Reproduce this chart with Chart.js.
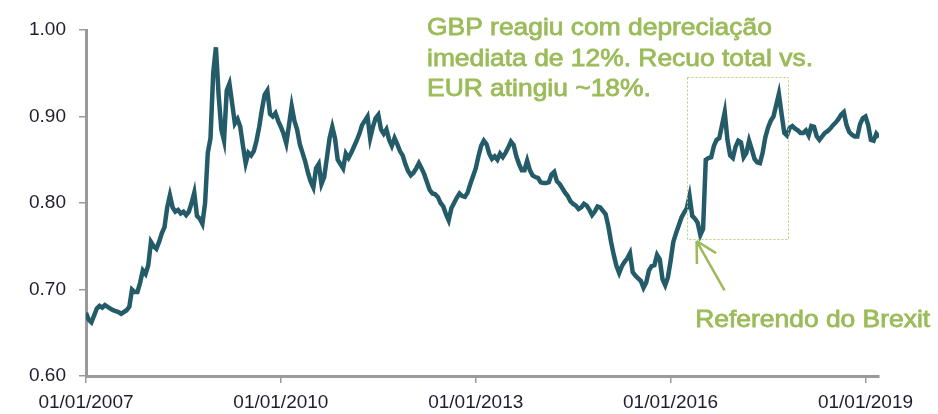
<!DOCTYPE html>
<html>
<head>
<meta charset="utf-8">
<title>EUR/GBP</title>
<script src="https://cdn.jsdelivr.net/npm/chart.js@4.4.1/dist/chart.umd.min.js"></script>
<style>
  html, body { margin: 0; padding: 0; background: #fff; }
</style>
</head>
<body>
<canvas id="fxChart" width="938" height="414"></canvas>
<script>
// EUR/GBP, one reading every half month starting 01/01/2007
var startYear = 2007;
var stepsPerYear = 24;
var tickYears = [2007, 2010, 2013, 2016, 2019];
var yTicks = [0.6, 0.7, 0.8, 0.9, 1.0];

var eurGbp = [
    0.673,0.665,0.662,0.670,0.678,0.681,0.679,0.682,0.680,0.678,0.676,0.675,0.674,0.672,0.674,0.676,0.680,0.700,0.697,0.697,0.708,0.722,0.718,0.728,
    0.755,0.750,0.747,0.755,0.765,0.772,0.795,0.809,0.795,0.790,0.792,0.788,0.790,0.786,0.790,0.800,0.812,0.785,0.782,0.776,0.800,0.858,0.875,0.950,
    0.980,0.925,0.885,0.872,0.930,0.938,0.915,0.892,0.897,0.888,0.866,0.846,0.858,0.855,0.860,0.872,0.888,0.908,0.925,0.930,0.903,0.900,0.904,0.895,
    0.888,0.880,0.869,0.890,0.912,0.895,0.885,0.868,0.858,0.848,0.835,0.825,0.818,0.840,0.845,0.822,0.830,0.852,0.875,0.888,0.875,0.850,0.845,0.840,
    0.857,0.852,0.858,0.865,0.872,0.880,0.890,0.895,0.900,0.875,0.888,0.898,0.902,0.885,0.880,0.885,0.873,0.866,0.875,0.868,0.860,0.855,0.845,0.837,
    0.832,0.835,0.840,0.846,0.840,0.833,0.824,0.815,0.811,0.810,0.807,0.800,0.796,0.787,0.780,0.794,0.800,0.806,0.811,0.808,0.807,0.812,0.822,0.831,
    0.840,0.854,0.866,0.872,0.868,0.857,0.851,0.854,0.850,0.857,0.853,0.858,0.864,0.871,0.867,0.854,0.845,0.838,0.838,0.849,0.838,0.832,0.830,0.829,
    0.824,0.823,0.823,0.824,0.833,0.836,0.825,0.822,0.817,0.812,0.808,0.802,0.799,0.797,0.793,0.795,0.799,0.797,0.792,0.786,0.790,0.796,0.795,0.791,
    0.787,0.773,0.755,0.740,0.727,0.719,0.727,0.732,0.736,0.742,0.720,0.716,0.713,0.710,0.702,0.708,0.722,0.727,0.728,0.740,0.735,0.712,0.705,0.714,
    0.733,0.755,0.765,0.774,0.783,0.789,0.794,0.808,0.785,0.782,0.777,0.763,0.770,0.850,0.852,0.853,0.866,0.873,0.875,0.890,0.905,0.873,0.855,0.852,
    0.865,0.872,0.870,0.853,0.858,0.872,0.862,0.851,0.847,0.846,0.858,0.876,0.887,0.895,0.900,0.913,0.926,0.903,0.881,0.878,0.887,0.889,0.886,0.884,
    0.881,0.881,0.884,0.878,0.889,0.888,0.877,0.873,0.877,0.881,0.883,0.886,0.890,0.893,0.897,0.902,0.905,0.890,0.882,0.879,0.877,0.877,0.891,0.898,
    0.900,0.890,0.873,0.872,0.880,0.876
];

var noteLines = ['GBP reagiu com depreciação', 'imediata de 12%. Recuo total vs.', 'EUR atingiu ~18%.'];
var brexitLabel = 'Referendo do Brexit';

var green = '#9bbb59';
var tickColor = '#1e1e30';
var axisGrey = '#9a9a9a';

function drawStretched(ctx, text, x, y, sx) {
    ctx.save();
    ctx.translate(x, y);
    ctx.scale(sx, 1);
    ctx.fillText(text, 0, 0);
    ctx.strokeText(text, 0, 0);
    ctx.restore();
}

// box, arrow and green notes, placed in data space
var notes = {
    id: 'notes',
    afterDatasetsDraw: function(chart) {
        var ctx = chart.ctx;
        var xs = chart.scales.x, ys = chart.scales.y;
        ctx.save();

        var bx1 = Math.round(xs.getPixelForValue(2016.26)) + 0.5;
        var bx2 = Math.round(xs.getPixelForValue(2017.80)) + 0.5;
        var by1 = Math.round(ys.getPixelForValue(0.946)) + 0.5;
        var by2 = Math.round(ys.getPixelForValue(0.758)) + 0.5;
        ctx.strokeStyle = '#b5cf7c';
        ctx.lineWidth = 1;
        ctx.setLineDash([2, 2]);
        ctx.strokeRect(bx1, by1, bx2 - bx1, by2 - by1);
        ctx.setLineDash([]);

        var tipX = xs.getPixelForValue(2016.40), tipY = ys.getPixelForValue(0.756);
        var tailX = xs.getPixelForValue(2016.83), tailY = ys.getPixelForValue(0.699);
        var ang = Math.atan2(tailY - tipY, tailX - tipX);
        ctx.strokeStyle = green;
        ctx.lineWidth = 2.5;
        ctx.beginPath();
        ctx.moveTo(tailX, tailY);
        ctx.lineTo(tipX, tipY);
        [-0.5, 0.5].forEach(function(d) {
            ctx.moveTo(tipX, tipY);
            ctx.lineTo(tipX + 23 * Math.cos(ang + d), tipY + 23 * Math.sin(ang + d));
        });
        ctx.stroke();

        ctx.fillStyle = green;
        ctx.strokeStyle = green;
        ctx.lineWidth = 0.8;
        ctx.font = '24px "Liberation Sans", Arial, sans-serif';
        ctx.textBaseline = 'alphabetic';
        ctx.textAlign = 'left';
        var noteX = xs.getPixelForValue(2012.25);
        var noteY = ys.getPixelForValue(0.994);
        noteLines.forEach(function(line, i) {
            drawStretched(ctx, line, noteX, noteY + i * 30.5, 1.1);
        });
        drawStretched(ctx, brexitLabel, xs.getPixelForValue(2016.38), ys.getPixelForValue(0.6566), 1.1);
        ctx.restore();
    }
};

var points = eurGbp.map(function(v, i) {
    return { x: startYear + i / stepsPerYear, y: v };
});

var ctx = document.getElementById('fxChart');
var fxChart = new Chart(ctx, {
    type: 'line',
    data: {
        datasets: [{
            label: 'EUR/GBP',
            data: points,
            borderColor: '#245b69',
            borderWidth: 4.5,
            pointRadius: 0,
            tension: 0,
            fill: false
        }]
    },
    options: {
        responsive: false,
        animation: false,
        devicePixelRatio: 1,
        layout: { padding: { top: 30, right: 59, left: 0, bottom: 0 } },
        plugins: { legend: { display: false }, tooltip: { enabled: false } },
        scales: {
            x: {
                type: 'linear',
                min: startYear,
                max: startYear + (eurGbp.length - 1) / stepsPerYear,
                afterFit: function(s) { s.height = 38; },
                afterBuildTicks: function(s) {
                    s.ticks = tickYears.map(function(v) { return { value: v }; });
                },
                grid: { drawOnChartArea: false, drawTicks: true, tickLength: 7, color: axisGrey, lineWidth: 1.5 },
                border: { display: true, color: axisGrey, width: 3 },
                ticks: {
                    autoSkip: false,
                    maxRotation: 0,
                    padding: 8,
                    color: tickColor,
                    font: { family: '"Liberation Sans", Arial, sans-serif', size: 19 },
                    callback: function(v) { return '01/01/' + v; }
                }
            },
            y: {
                min: 0.6,
                max: 1.0,
                afterFit: function(s) { s.width = 86; },
                afterBuildTicks: function(s) {
                    s.ticks = yTicks.map(function(v) { return { value: v }; });
                },
                grid: { drawOnChartArea: false, drawTicks: true, tickLength: 7, color: axisGrey, lineWidth: 1.5 },
                border: { display: true, color: axisGrey, width: 3 },
                ticks: {
                    padding: 13,
                    color: tickColor,
                    font: { family: '"Liberation Sans", Arial, sans-serif', size: 19 },
                    callback: function(v) { return v.toFixed(2); }
                }
            }
        }
    },
    plugins: [notes]
});
</script>
</body>
</html>
